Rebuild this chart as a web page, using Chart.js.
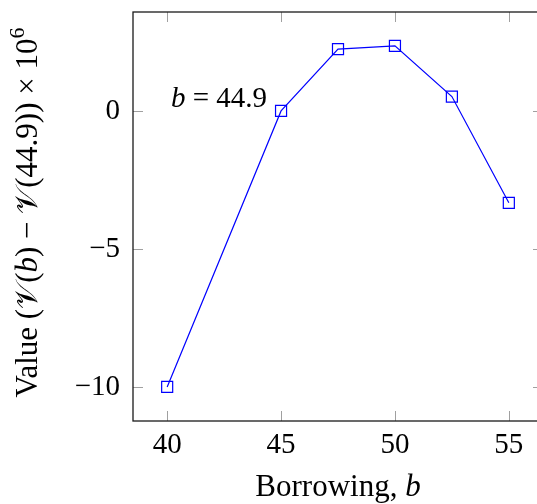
<!DOCTYPE html>
<html>
<head>
<meta charset="utf-8">
<script src="https://cdn.jsdelivr.net/npm/chart.js@4.4.0/dist/chart.umd.min.js"></script>
<style>
  html, body { margin: 0; padding: 0; background: #fff; overflow: hidden; }
  #wrap { width: 560px; height: 504px; }
</style>
</head>
<body>
<div id="wrap"><canvas id="chart" width="560" height="504"></canvas></div>
<script>
// data
const borrowing = [40, 45, 47.5, 50, 52.5, 55];
const valueDiff = [-10, 0, 2.24, 2.36, 0.52, -3.33];
const xTicks = [40, 45, 50, 55];
const yTicks = [-10, -5, 0];
const markAt = { b: 45, v: 0 };

const serif = '"Liberation Serif", "DejaVu Serif", serif';
const fontSize = 29;
const titleSize = 31;
const tickLen = 10;

// text pieces: [text, style] with n = normal, i = italic, sup = superscript
const xTitle = [['Borrowing, ', 'n'], ['b', 'i']];
const yTitle = [['Value (', 'n'], ['𝒱', 'n'], ['(', 'n'], ['b', 'i'], [') − ', 'n'], ['𝒱', 'n'], ['(44.9)) × 10', 'n'], ['6', 'sup']];
const markText = [['b', 'i'], [' = 44.9', 'n']];

function fontFor(style, size) {
    if (style === 'i') return `italic ${size}px ${serif}`;
    if (style === 'sup') return `${Math.round(size * 0.7)}px ${serif}`;
    return `${size}px ${serif}`;
}

function richWidth(ctx, parts, size) {
    let w = 0;
    parts.forEach(([t, s]) => { ctx.font = fontFor(s, size); w += ctx.measureText(t).width; });
    return w;
}

// draws with baseline at y=0, starting at x
function drawRich(ctx, parts, size, x) {
    parts.forEach(([t, s]) => {
        ctx.font = fontFor(s, size);
        ctx.fillText(t, x, s === 'sup' ? -size * 0.42 : 0);
        x += ctx.measureText(t).width;
    });
}

const decor = {
    id: 'decor',
    beforeDatasetsDraw(chart) {
        const { ctx, chartArea: a, scales: { x, y } } = chart;
        ctx.save();
        ctx.strokeStyle = '#a0a0a0';
        ctx.lineWidth = 1;
        ctx.beginPath();
        xTicks.forEach(v => {
            const px = Math.round(x.getPixelForValue(v)) + 0.5;
            ctx.moveTo(px, a.bottom); ctx.lineTo(px, a.bottom - tickLen);
            ctx.moveTo(px, a.top); ctx.lineTo(px, a.top + tickLen);
        });
        yTicks.forEach(v => {
            const py = Math.round(y.getPixelForValue(v)) + 0.5;
            ctx.moveTo(a.left, py); ctx.lineTo(a.left + tickLen, py);
            ctx.moveTo(a.right, py); ctx.lineTo(a.right - tickLen, py);
        });
        ctx.stroke();
        ctx.strokeStyle = '#1a1a1a';
        ctx.lineWidth = 1.3;
        ctx.strokeRect(a.left, a.top, a.right - a.left, a.bottom - a.top);
        ctx.restore();
    },
    afterDraw(chart) {
        const { ctx, chartArea: a, scales: { x, y } } = chart;
        ctx.save();
        ctx.fillStyle = '#000';
        ctx.textBaseline = 'alphabetic';
        ctx.textAlign = 'left';

        // x axis title
        let w = richWidth(ctx, xTitle, titleSize);
        ctx.save();
        ctx.translate((a.left + a.right) / 2 - w / 2, 496);
        drawRich(ctx, xTitle, titleSize, 0);
        ctx.restore();

        // y axis title, rotated
        w = richWidth(ctx, yTitle, titleSize);
        ctx.save();
        ctx.translate(37, (a.top + a.bottom) / 2 - 4);
        ctx.rotate(-Math.PI / 2);
        drawRich(ctx, yTitle, titleSize, -w / 2);
        ctx.restore();

        // label next to b = 44.9 point
        w = richWidth(ctx, markText, fontSize);
        ctx.save();
        ctx.translate(x.getPixelForValue(markAt.b) - 14 - w, y.getPixelForValue(markAt.v) - 4);
        drawRich(ctx, markText, fontSize, 0);
        ctx.restore();
        ctx.restore();
    }
};

const tickFont = { family: serif, size: fontSize };

new Chart(document.getElementById('chart'), {
    type: 'line',
    data: {
        datasets: [{
            data: borrowing.map((b, i) => ({ x: b, y: valueDiff[i] })),
            borderColor: '#0000ff',
            borderWidth: 1.2,
            pointStyle: 'rect',
            pointRadius: 7.8,
            pointBorderWidth: 1.2,
            pointBorderColor: '#0000ff',
            pointBackgroundColor: 'rgba(0,0,0,0)',
            tension: 0
        }]
    },
    options: {
        responsive: false,
        animation: false,
        layout: { padding: { top: 12, right: 17, left: 0, bottom: 0 } },
        plugins: { legend: { display: false }, tooltip: { enabled: false } },
        scales: {
            x: {
                type: 'linear',
                min: 38.5,
                max: 56.5,
                grid: { display: false, drawTicks: false },
                border: { display: false },
                ticks: { stepSize: 5, includeBounds: false, font: tickFont, color: '#000', padding: 7, maxRotation: 0 },
                afterFit(s) { s.height = 83; s.paddingLeft = 0; s.paddingRight = 0; }
            },
            y: {
                min: -11.235,
                max: 3.585,
                grid: { display: false, drawTicks: false },
                border: { display: false },
                ticks: {
                    stepSize: 5, includeBounds: false, font: tickFont, color: '#000', padding: 13,
                    callback: v => v < 0 ? '−' + Math.abs(v) : String(v)
                },
                afterFit(s) { s.width = 133; s.paddingTop = 0; s.paddingBottom = 0; }
            }
        }
    },
    plugins: [decor]
});
</script>
</body>
</html>
